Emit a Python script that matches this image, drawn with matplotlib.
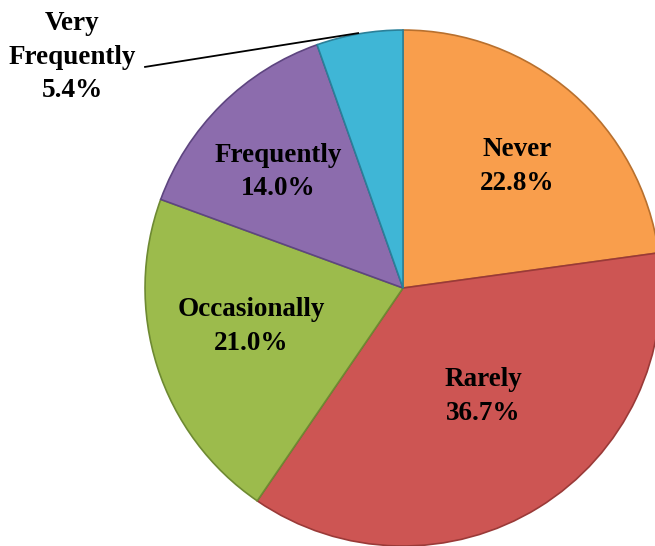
import matplotlib.pyplot as plt

# данные
labels = ['Never', 'Rarely', 'Occasionally', 'Frequently', 'Very\nFrequently']
values = [22.8, 36.7, 21.0, 14.0, 5.4]
colors = ['#F99E4C', '#CD5553', '#9CBB4C', '#8C6CAD', '#3FB6D6']
edges = ['#B8702E', '#9A3A38', '#6E8A32', '#5E4580', '#2A8099']

# позиции подписей в координатах осей (радиус = 1)
label_xy = [(0.442, 0.47), (0.31, -0.42), (-0.589, -0.15), (-0.484, 0.45), (-1.283, 0.895)]

fig = plt.figure(figsize=(6.55, 5.46), dpi=100)
ax = fig.add_axes([0.2214, 0.0, 0.7878, 0.945])

wedges, _ = ax.pie(values, colors=colors, startangle=90, counterclock=False,
                   radius=1, wedgeprops=dict(linewidth=1.2))
for w, ec in zip(wedges, edges):
    w.set_edgecolor(ec)

for lab, v, (x, y) in zip(labels, values, label_xy):
    ax.text(x, y, f'{lab}\n{v:.1f}%', ha='center', va='center',
            fontsize=19.5, fontweight='bold', family='Liberation Serif',
            linespacing=1.45, color='black')

# выноска для Very Frequently
ax.plot([-1.0, -0.174], [0.857, 0.988], color='black', lw=1.3, clip_on=False)

ax.set_xlim(-1, 1)
ax.set_ylim(-1, 1)
ax.set_aspect('equal')
ax.axis('off')

fig.savefig('out.png', dpi=100)
